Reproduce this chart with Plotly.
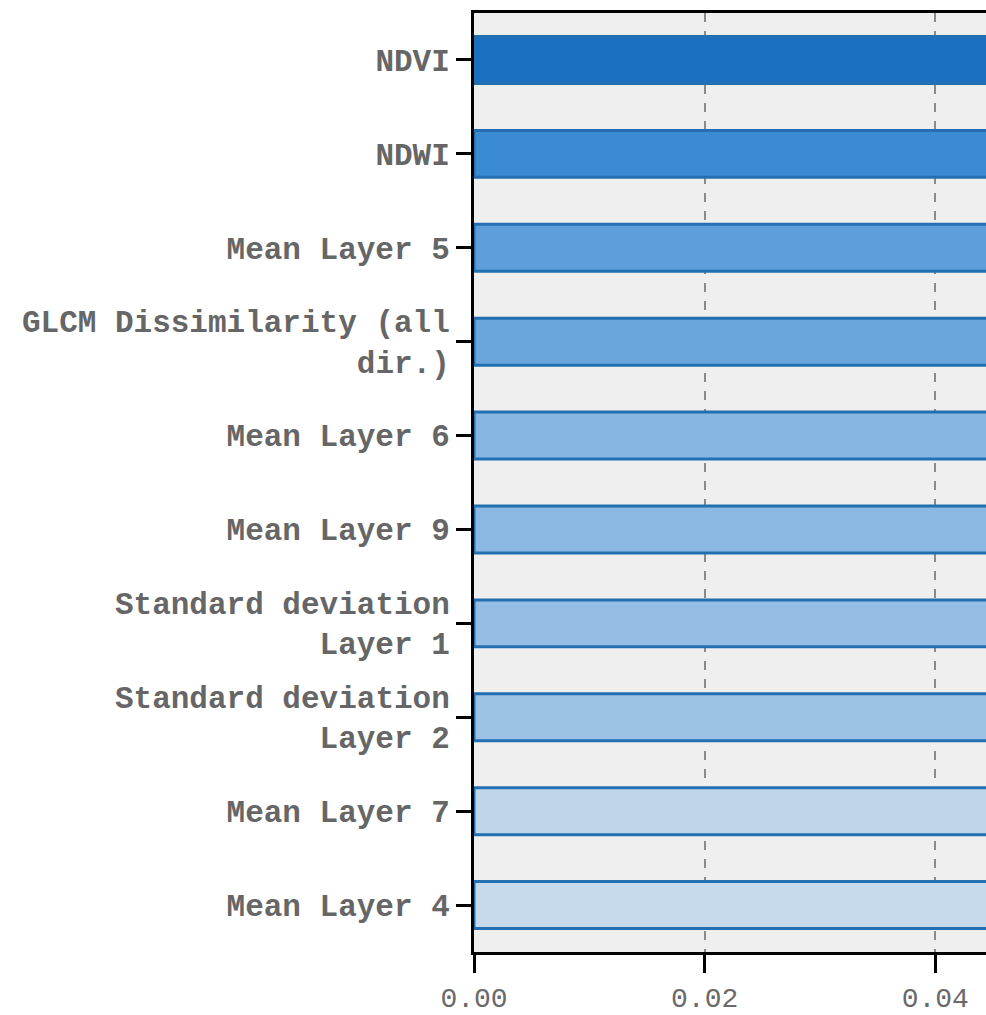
import plotly.graph_objects as go

categories = [
    "NDVI",
    "NDWI",
    "Mean Layer 5",
    "GLCM Dissimilarity (all<br>dir.)",
    "Mean Layer 6",
    "Mean Layer 9",
    "Standard deviation<br>Layer 1",
    "Standard deviation<br>Layer 2",
    "Mean Layer 7",
    "Mean Layer 4",
]
# Bars run past the visible (cropped) right edge; values estimated
importance = [0.095, 0.082, 0.074, 0.068, 0.063, 0.060, 0.057, 0.055, 0.052, 0.050]
bar_colors = [
    "#1a6fc0", "#3a8bd2", "#5e9fdb", "#6aa6dc", "#87b6e2",
    "#8cb9e3", "#95bee4", "#9cc2e5", "#bed5ea", "#c6daec",
]
x_ticks = [0.00, 0.02, 0.04]
x_ticktext = ["0.00", "0.02", "0.04"]

fig = go.Figure(
    go.Bar(
        x=importance,
        y=categories,
        orientation="h",
        width=0.5,
        marker=dict(color=bar_colors, line=dict(color="#2270b2", width=3)),
    )
)

font_family = "Liberation Mono"
fig.update_layout(
    width=986,
    height=1015,
    margin=dict(l=474, r=0, t=13, b=63, autoexpand=False),
    paper_bgcolor="white",
    plot_bgcolor="#efefef",
    showlegend=False,
    bargap=0.5,
)
fig.update_xaxes(
    range=[0, 0.0444],
    tickvals=x_ticks,
    ticktext=x_ticktext,
    ticks="outside",
    ticklen=18,
    tickwidth=3,
    tickcolor="black",
    showline=True,
    linecolor="black",
    linewidth=3,
    mirror=True,
    showgrid=True,
    gridcolor="#8a8a8a",
    gridwidth=2,
    griddash="dash",
    zeroline=False,
    layer="above traces",
    automargin=False,
    ticklabelstandoff=0,
    tickfont=dict(family=font_family, size=28, color="#6a6a6a"),
)
fig.update_yaxes(
    categoryorder="array",
    categoryarray=categories[::-1],
    range=[-0.5, 9.5],
    ticks="outside",
    ticklen=15,
    tickwidth=3,
    tickcolor="black",
    showline=True,
    linecolor="black",
    linewidth=3,
    mirror=False,
    showgrid=False,
    zeroline=False,
    layer="above traces",
    automargin=False,
    tickfont=dict(family=font_family, size=31, color="#666666", weight="bold"),
)

fig.write_html("out.html")
